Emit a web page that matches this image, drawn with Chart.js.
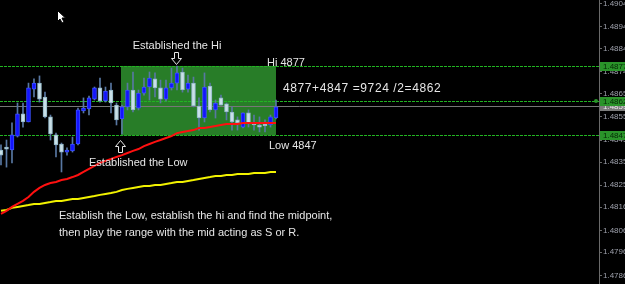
<!DOCTYPE html>
<html>
<head>
<meta charset="utf-8">
<script src="https://cdn.jsdelivr.net/npm/chart.js@4.4.0/dist/chart.umd.min.js"></script>
<style>
html, body { margin: 0; padding: 0; background: #000; }
canvas { display: block; }
</style>
</head>
<body>
<canvas id="chart" width="625" height="284"></canvas>
<script>
// candles, oldest first
const opens = [1.48407, 1.48420, 1.48407, 1.48467, 1.48563, 1.48528, 1.48670, 1.48696, 1.48636, 1.48550,
  1.48472, 1.48433, 1.48398, 1.48403, 1.48433, 1.48576, 1.48584, 1.48627, 1.48675, 1.48619,
  1.48666, 1.48601, 1.48541, 1.48593, 1.48666, 1.48588, 1.48653, 1.48679, 1.48714, 1.48675,
  1.48627, 1.48675, 1.48696, 1.48744, 1.48670, 1.48696, 1.48597, 1.48545, 1.48683, 1.48580,
  1.48632, 1.48606, 1.48571, 1.48537, 1.48506, 1.48567, 1.48524, 1.48515, 1.48519, 1.48515, 1.48545];
const highs = [1.48429, 1.48450, 1.48524, 1.48610, 1.48610, 1.48696, 1.48714, 1.48727, 1.48657, 1.48558,
  1.48480, 1.48437, 1.48416, 1.48463, 1.48588, 1.48632, 1.48640, 1.48679, 1.48718, 1.48679,
  1.48696, 1.48610, 1.48601, 1.48696, 1.48744, 1.48666, 1.48718, 1.48744, 1.48740, 1.48709,
  1.48709, 1.48761, 1.48770, 1.48761, 1.48731, 1.48722, 1.48632, 1.48740, 1.48696, 1.48623,
  1.48644, 1.48610, 1.48593, 1.48550, 1.48567, 1.48580, 1.48558, 1.48550, 1.48537, 1.48558, 1.48623];
const lows = [1.48342, 1.48333, 1.48351, 1.48463, 1.48506, 1.48528, 1.48636, 1.48614, 1.48545, 1.48450,
  1.48377, 1.48312, 1.48385, 1.48398, 1.48429, 1.48567, 1.48558, 1.48623, 1.48614, 1.48614,
  1.48567, 1.48515, 1.48476, 1.48580, 1.48571, 1.48580, 1.48644, 1.48623, 1.48636, 1.48610,
  1.48619, 1.48666, 1.48666, 1.48657, 1.48657, 1.48593, 1.48493, 1.48528, 1.48571, 1.48545,
  1.48601, 1.48537, 1.48493, 1.48493, 1.48502, 1.48506, 1.48493, 1.48485, 1.48485, 1.48506, 1.48541];
const closes = [1.48385, 1.48411, 1.48472, 1.48563, 1.48528, 1.48675, 1.48696, 1.48627, 1.48550, 1.48476,
  1.48429, 1.48398, 1.48407, 1.48433, 1.48580, 1.48588, 1.48632, 1.48675, 1.48619, 1.48662,
  1.48610, 1.48537, 1.48593, 1.48666, 1.48580, 1.48653, 1.48679, 1.48718, 1.48675, 1.48627,
  1.48675, 1.48696, 1.48740, 1.48666, 1.48696, 1.48597, 1.48545, 1.48679, 1.48580, 1.48610,
  1.48601, 1.48571, 1.48528, 1.48524, 1.48567, 1.48524, 1.48515, 1.48506, 1.48511, 1.48550, 1.48593];

// moving averages
const redMA = [1.48131, 1.48144, 1.48161, 1.48174, 1.48187, 1.48204, 1.48226, 1.48243, 1.48256, 1.48264,
  1.48269, 1.48277, 1.48282, 1.48290, 1.48299, 1.48312, 1.48325, 1.48338, 1.48351, 1.48360,
  1.48368, 1.48377, 1.48385, 1.48394, 1.48403, 1.48411, 1.48424, 1.48433, 1.48442, 1.48450,
  1.48459, 1.48467, 1.48480, 1.48485, 1.48489, 1.48493, 1.48502, 1.48502, 1.48506, 1.48511,
  1.48515, 1.48519, 1.48519, 1.48519, 1.48524, 1.48524, 1.48524, 1.48524, 1.48524, 1.48524, 1.48524];
const yellowMA = [1.48144, 1.48148, 1.48157, 1.48161, 1.48165, 1.48169, 1.48174, 1.48174, 1.48178, 1.48182,
  1.48187, 1.48187, 1.48191, 1.48195, 1.48195, 1.48200, 1.48204, 1.48208, 1.48213, 1.48217,
  1.48221, 1.48226, 1.48234, 1.48239, 1.48243, 1.48247, 1.48251, 1.48251, 1.48256, 1.48256,
  1.48260, 1.48264, 1.48269, 1.48269, 1.48273, 1.48277, 1.48282, 1.48286, 1.48290, 1.48295,
  1.48295, 1.48299, 1.48299, 1.48303, 1.48303, 1.48303, 1.48308, 1.48308, 1.48308, 1.48312, 1.48312];

const priceTicks = [1.49040, 1.48940, 1.48845, 1.48745, 1.48650, 1.48550, 1.48450,
  1.48355, 1.48255, 1.48160, 1.48060, 1.47965, 1.47865];

const hiLevel = 1.4877;
const lowLevel = 1.4847;
const midLevel = 1.4862;
const bidPrice = 1.48597;
const hiIdx = 32;      // candle that set the high
const lowIdx = 22;     // candle that set the low
const rangeEndIdx = 50;

const idx = opens.map((_, i) => i);
const isUp = i => closes[i] >= opens[i];

const decor = {
  id: 'decor',
  beforeDraw(chart) {
    const ctx = chart.ctx;
    ctx.save();
    ctx.fillStyle = '#000';
    ctx.fillRect(0, 0, chart.width, chart.height);
    ctx.restore();
  },
  beforeDatasetsDraw(chart) {
    const { ctx, chartArea: a, scales: { x, y } } = chart;
    ctx.save();
    // range box
    const l = x.getPixelForValue(lowIdx) - 1;
    const r = x.getPixelForValue(rangeEndIdx);
    const t = y.getPixelForValue(hiLevel);
    const b = y.getPixelForValue(lowLevel);
    ctx.fillStyle = '#287d28';
    ctx.fillRect(l, t, r - l, b - t);

    // bid line
    const by = Math.round(y.getPixelForValue(bidPrice)) + 0.5;
    ctx.strokeStyle = '#777';
    ctx.lineWidth = 1;
    ctx.beginPath();
    ctx.moveTo(a.left, by);
    ctx.lineTo(a.right, by);
    ctx.stroke();

    // level lines
    ctx.strokeStyle = '#22b422';
    ctx.setLineDash([3, 1]);
    [hiLevel, midLevel, lowLevel].forEach(v => {
      const ly = Math.round(y.getPixelForValue(v)) + 0.5;
      ctx.beginPath();
      ctx.moveTo(a.left, ly);
      ctx.lineTo(a.right, ly);
      ctx.stroke();
    });
    ctx.restore();
  },
  afterDatasetsDraw(chart) {
    const { ctx, scales: { x } } = chart;
    ctx.save();
    ctx.fillStyle = '#e6e6e6';
    ctx.font = '11px "Liberation Sans", Arial, sans-serif';
    ctx.textBaseline = 'middle';

    const hx = x.getPixelForValue(hiIdx);
    const lx = x.getPixelForValue(lowIdx);

    ctx.textAlign = 'center';
    ctx.fillText('Established the Hi', hx, 46);
    ctx.textAlign = 'left';
    ctx.fillText('Hi 4877', 267, 63);
    ctx.fillText('Low 4847', 269, 146);
    ctx.fillText('Established the Low', 89, 163);
    ctx.fillText('Establish the Low, establish the hi and find the midpoint,', 59, 216);
    ctx.fillText('then play the range with the mid acting as S or R.', 59, 233);
    ctx.font = '12px "Liberation Sans", Arial, sans-serif';
    ctx.letterSpacing = '0.6px';
    ctx.fillText('4877+4847 =9724 /2=4862', 283, 89);
    ctx.letterSpacing = '0px';

    // hollow arrows
    ctx.strokeStyle = '#e6e6e6';
    ctx.lineWidth = 1;
    const arrow = (cx, tip, dir) => {
      const s = dir;   // 1 = pointing down
      const base = tip - s * 12;
      ctx.beginPath();
      ctx.moveTo(cx - 2, base);
      ctx.lineTo(cx + 2, base);
      ctx.lineTo(cx + 2, base + s * 6);
      ctx.lineTo(cx + 5, base + s * 6);
      ctx.lineTo(cx, tip);
      ctx.lineTo(cx - 5, base + s * 6);
      ctx.lineTo(cx - 2, base + s * 6);
      ctx.closePath();
      ctx.stroke();
    };
    arrow(Math.round(hx) - 0.5, 64.5, 1);
    arrow(Math.round(lx) - 1.5, 140.5, -1);

    // mouse pointer
    ctx.fillStyle = '#fff';
    ctx.strokeStyle = '#000';
    ctx.beginPath();
    ctx.moveTo(57.5, 10.5);
    ctx.lineTo(57.5, 21.5);
    ctx.lineTo(60, 19);
    ctx.lineTo(62, 23);
    ctx.lineTo(64, 22);
    ctx.lineTo(62, 18);
    ctx.lineTo(65.5, 18);
    ctx.closePath();
    ctx.fill();
    ctx.stroke();
    ctx.restore();
  },
  afterDraw(chart) {
    const { ctx, chartArea: a, scales: { y } } = chart;
    ctx.save();
    ctx.font = '8px "Liberation Sans", Arial, sans-serif';
    ctx.textBaseline = 'middle';
    ctx.textAlign = 'left';
    const box = (v, fill, text) => {
      const py = Math.round(y.getPixelForValue(v));
      ctx.fillStyle = fill;
      ctx.fillRect(a.right + 1, py - 4, chart.width - a.right, 9);
      ctx.fillStyle = text;
      ctx.fillText(v.toFixed(5), a.right + 4, py + 0.5);
    };
    box(bidPrice, '#7c7c7c', '#e8e8e8');
    [hiLevel, midLevel, lowLevel].forEach(v => box(v, '#2a942a', '#052805'));
    ctx.fillStyle = '#2a942a';
    ctx.beginPath();
    ctx.arc(a.right - 3, Math.round(y.getPixelForValue(midLevel)), 2, 0, Math.PI * 2);
    ctx.fill();
    ctx.restore();
  }
};

const ctx = document.getElementById('chart');
new Chart(ctx, {
  type: 'bar',
  data: {
    datasets: [
      {
        type: 'line',
        label: 'MA red',
        data: idx.map(i => ({ x: i, y: redMA[i] })),
        borderColor: '#ff1010',
        borderWidth: 2,
        pointRadius: 0,
        order: 1
      },
      {
        type: 'line',
        label: 'MA yellow',
        data: idx.map(i => ({ x: i, y: yellowMA[i] })),
        borderColor: '#f2f200',
        borderWidth: 2,
        pointRadius: 0,
        order: 1
      },
      {
        label: 'bodies',
        data: idx.map(i => ({ x: i, y: [opens[i], closes[i]] })),
        backgroundColor: c => isUp(c.dataIndex) ? '#1414ff' : '#c9e0e8',
        borderColor: c => isUp(c.dataIndex) ? '#3a50ff' : '#8fb4c4',
        borderWidth: 1,
        borderSkipped: false,
        barThickness: 4,
        minBarLength: 2,
        grouped: false,
        order: 2
      },
      {
        label: 'wicks',
        data: idx.map(i => ({ x: i, y: [lows[i], highs[i]] })),
        backgroundColor: '#5877a2',
        borderWidth: 0,
        barThickness: 1,
        grouped: false,
        order: 3
      }
    ]
  },
  options: {
    responsive: false,
    devicePixelRatio: 1,
    animation: false,
    layout: { padding: 0 },
    plugins: {
      legend: { display: false },
      tooltip: { enabled: false }
    },
    scales: {
      x: {
        type: 'linear',
        offset: false,
        min: -0.18,
        max: 108.73,
        display: false
      },
      y: {
        position: 'right',
        min: 1.47828,
        max: 1.49055,
        afterFit(s) {
          s.width = 26;
          s.paddingTop = 0;
          s.paddingBottom = 0;
        },
        afterBuildTicks(s) { s.ticks = priceTicks.map(v => ({ value: v })); },
        ticks: {
          autoSkip: false,
          color: '#9da0ab',
          padding: 1,
          font: { family: 'Liberation Sans', size: 8 },
          callback: v => v.toFixed(5)
        },
        grid: { drawOnChartArea: false, color: '#6a6a6a', tickLength: 3 },
        border: { color: '#6a6a6a', dash: [1, 1] }
      }
    }
  },
  plugins: [decor]
});
</script>
</body>
</html>
